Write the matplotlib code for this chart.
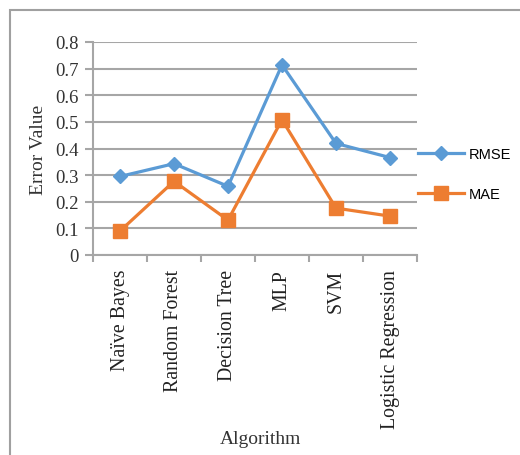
import matplotlib
matplotlib.use("Agg")
import matplotlib.pyplot as plt
from matplotlib.patches import Rectangle

algorithms = ["Naïve Bayes", "Random Forest", "Decision Tree", "MLP", "SVM", "Logistic Regression"]
rmse = [0.295, 0.343, 0.258, 0.714, 0.419, 0.366]
mae = [0.090, 0.277, 0.131, 0.508, 0.176, 0.146]
y_ticks = [0, 0.1, 0.2, 0.3, 0.4, 0.5, 0.6, 0.7, 0.8]
y_tick_labels = ["0", "0.1", "0.2", "0.3", "0.4", "0.5", "0.6", "0.7", "0.8"]

serif = "Liberation Serif"
grid_col = "#a6a6a6"

fig = plt.figure(figsize=(5.2, 4.56), dpi=100)
ax = fig.add_axes([93 / 520, 1 - 256 / 456, 324 / 520, 213 / 456])

x = list(range(len(algorithms)))
ax.plot(x, rmse, color="#5b9bd5", lw=2.3, marker="D", ms=7.5, label="RMSE")
ax.plot(x, mae, color="#ed7d31", lw=2.3, marker="s", ms=9.5, label="MAE")

ax.set_xlim(-0.5, len(algorithms) - 0.5)
ax.set_ylim(0, 0.8)
ax.set_yticks(y_ticks)
ax.set_yticklabels(y_tick_labels, family=serif, fontsize=13.5, color="#333333")
ax.yaxis.grid(True, color=grid_col, lw=1.5)
ax.set_axisbelow(True)

# Excel-style category ticks between the categories
ax.set_xticks([i - 0.5 for i in range(len(algorithms) + 1)])
ax.set_xticklabels([])
ax.set_xticks(x, minor=True)
ax.set_xticklabels(algorithms, minor=True, rotation=90, family=serif, fontsize=14.3, color="#222222")
ax.tick_params(axis="x", which="major", length=5, width=1.5, color=grid_col)
ax.tick_params(axis="x", which="minor", length=0, pad=10)
ax.tick_params(axis="y", length=6, width=1.5, color=grid_col, pad=4)

for s in ["top", "right"]:
    ax.spines[s].set_visible(False)
for s in ["left", "bottom"]:
    ax.spines[s].set_color(grid_col)
    ax.spines[s].set_linewidth(1.5)

ax.set_ylabel("Error Value", family=serif, fontsize=14, color="#333333", labelpad=6)
fig.text(260 / 520, 1 - 440 / 456, "Algorithm", family=serif, fontsize=14, color="#333333",
         ha="center", va="center")

ax.legend(loc="center left", bbox_to_anchor=(1.0, 0.38), frameon=False,
          prop={"family": "Liberation Sans", "size": 10.5}, handlelength=3.1,
          handletextpad=0.35, labelspacing=1.75, borderaxespad=0.0, borderpad=0.1)

fig.add_artist(Rectangle((9.5 / 520, -0.1), 1.2, 1 - 11 / 456 + 0.1, transform=fig.transFigure,
                         fill=False, ec="#a0a0a0", lw=1.5))

fig.savefig("out.png", dpi=100, facecolor="white")
